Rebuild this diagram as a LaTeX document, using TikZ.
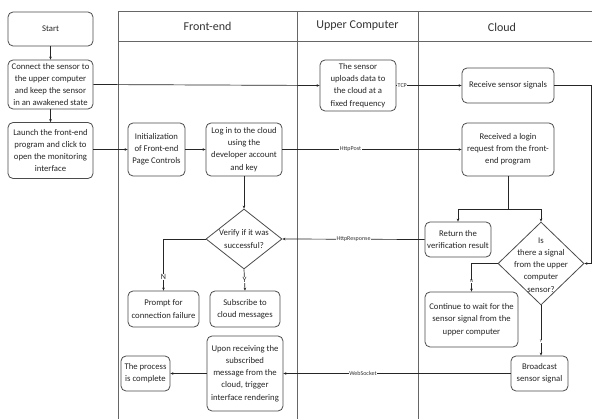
\documentclass[tikz,border=0pt]{standalone}
\usepackage{fontspec}
\setmainfont{Carlito}
\usetikzlibrary{shapes.geometric,arrows.meta}
\begin{document}
\begin{tikzpicture}[x=1pt,y=-1pt,
  box/.style={draw=black!70, line width=0.8pt, rounded corners=5pt, align=center, inner sep=1pt,
              font=\fontsize{8.7}{12.2}\selectfont, text=black!85},
  dia/.style={draw=black!70, line width=0.8pt, diamond, inner sep=0pt},
  dtxt/.style={align=center, inner sep=0pt, font=\fontsize{8.7}{12.2}\selectfont, text=black!85},
  lane/.style={draw=black!60, line width=0.8pt},
  head/.style={font=\fontsize{12}{14}\selectfont, text=black!80},
  conn/.style={draw=black!85, line width=0.7pt},
  arr/.style={conn, -{Stealth[length=3pt,width=2.6pt]}},
  lab/.style={fill=white, inner sep=0.5pt, font=\fontsize{6}{7}\selectfont, text=black!80},
  yn/.style={fill=white, inner sep=0.5pt, font=\fontsize{8}{9}\selectfont, text=black!85},
  ynsmall/.style={fill=white, inner sep=0.3pt, font=\fontsize{4.5}{5}\selectfont, text=black!85}]
\useasboundingbox (0,0) rectangle (592,419);
\fill[white] (0,0) rectangle (592,419);

% swimlanes
\draw[lane] (118,419) -- (118,11) -- (592,11);
\draw[lane] (118,41) -- (592,41);
\draw[lane] (297,11) -- (297,419);
\draw[lane] (418,11) -- (418,419);
\node[head] (h1) at (207.5,26) {Front-end};
\node[head] (h2) at (357.5,26) {Upper Computer};
\node[head] (h3) at (502,27) {Cloud};

% boxes
\node[box, minimum width=85, minimum height=34] (start) at (50.5,29) {Start};
\node[box, minimum width=85, minimum height=49] (connect) at (50.5,84.5) {Connect the sensor to\\the upper computer\\and keep the sensor\\in an awakened state};
\node[box, minimum width=85, minimum height=56] (launch) at (50.5,150.5) {Launch the front-end\\program and click to\\open the monitoring\\interface};
\node[box, minimum width=57, minimum height=53] (init) at (156.5,149.5) {Initialization\\of Front-end\\Page Controls};
\node[box, minimum width=76, minimum height=53] (login) at (244,149.5) {Log in to the cloud\\using the\\developer account\\and key};
\node[box, minimum width=76, minimum height=51] (upload) at (358,85.5) {The sensor\\uploads data to\\the cloud at a\\fixed frequency};
\node[box, minimum width=92, minimum height=35] (receive) at (508,85.5) {Receive sensor signals};
\node[box, minimum width=92, minimum height=53] (received) at (508,149.5) {Received a login\\request from the front-\\end program};
\node[dia, minimum width=76, minimum height=60] (verify) at (244,239) {};
\node[dtxt] (verifyt) at (244,239) {Verify if it was\\successful?};
\node[box, minimum width=66, minimum height=35] (return) at (458,239.5) {Return the\\verification result};
\node[dia, minimum width=86, minimum height=83] (isd) at (541,263.5) {};
\node[dtxt] (isdt) at (541,265) {Is\\there a signal\\from the upper\\computer\\sensor?};
\node[box, minimum width=71, minimum height=36] (prompt) at (163.5,309) {Prompt for\\connection failure};
\node[box, minimum width=70, minimum height=36] (subscribe) at (245,309) {Subscribe to\\cloud messages};
\node[box, minimum width=93, minimum height=55] (continue) at (471.5,319.5) {Continue to wait for the\\sensor signal from the\\upper computer};
\node[box, minimum width=57, minimum height=35] (broadcast) at (539.5,373.5) {Broadcast\\sensor signal};
\node[box, minimum width=76, minimum height=75] (upon) at (245,373.5) {Upon receiving the\\subscribed\\message from the\\cloud, trigger\\interface rendering};
\node[box, minimum width=49, minimum height=35] (process) at (145.5,373.5) {The process\\is complete};

% connectors
\draw[arr] (start.south) -- (connect.north);
\draw[arr] (connect.south) -- (launch.north);
\draw[arr] (connect.east) -- (upload.west);
\draw[arr] (launch.east |- init.west) -- (init.west);
\draw[arr] (init.east) -- (login.west);
\draw[arr] (upload.east) -- node[lab, pos=0.09] (tcp) {TCP} (receive.west);
\coordinate (rc) at (591,85.5);
\draw[arr] (receive.east) -- (rc) |- (isd.east);
\draw[arr] (login.east) -- node[lab, pos=0.38] (post) {HttpPost} (received.west);
\draw[arr] (login.south) -- (verify.north);
\coordinate (split) at (508,209);
\draw[conn] (received.south) -- (split);
\draw[arr] (split) -| (return.north);
\draw[arr] (split) -| (isd.north);
\draw[arr] (return.west) -- node[lab, pos=0.5] (resp) {HttpResponse} (verify.east);
\draw[arr] (verify.west) -| node[yn, pos=0.87] (vn) {N} (prompt.north);
\draw[arr] (verify.south) -- node[yn, pos=0.5] (vy) {Y} (subscribe.north);
\draw[arr] (isd.west) -| node[ynsmall, pos=0.82] (in) {N} (continue.north);
\draw[arr] (isd.south) -- node[ynsmall, pos=0.72] (iy) {Y} (isd.south |- broadcast.north);
\draw[arr] (broadcast.west) -- node[lab, pos=0.65] (ws) {WebSocket} (upon.east);
\draw[arr] (upon.west) -- (process.east);
\end{tikzpicture}
\end{document}
